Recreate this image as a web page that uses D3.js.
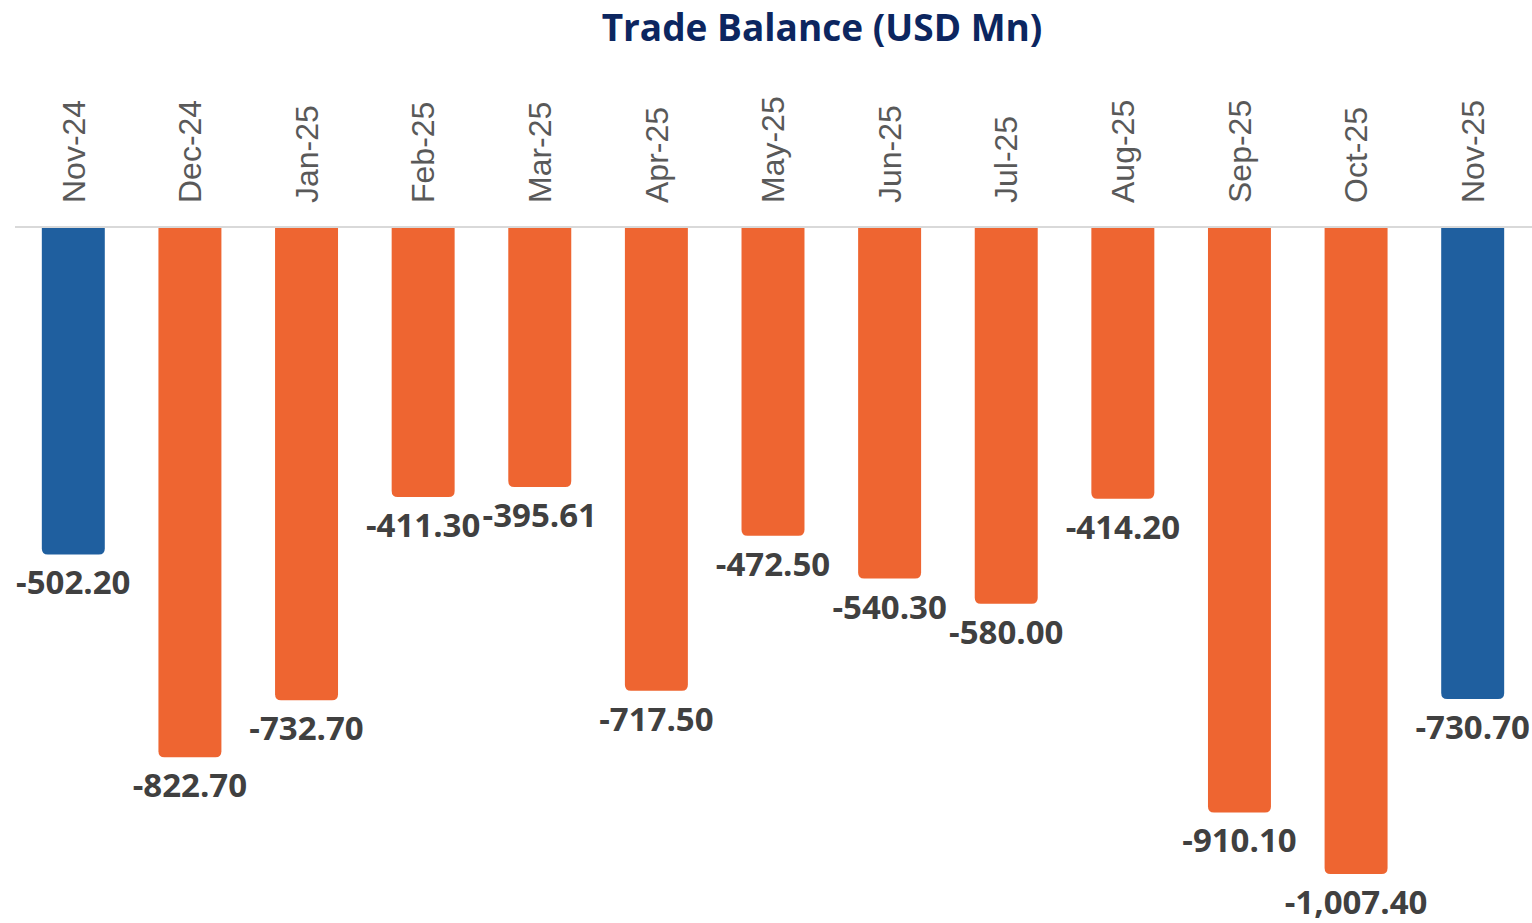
<!DOCTYPE html>
<html>
<head>
	<title>Trade Balance</title>
	<script src="https://cdn.jsdelivr.net/npm/d3@7/dist/d3.min.js"></script>
	<style>
		body { margin: 0; background: #fff; }
	</style>
</head>
<body>
<script>
	// data
	var months = ["Nov-24", "Dec-24", "Jan-25", "Feb-25", "Mar-25", "Apr-25", "May-25",
		"Jun-25", "Jul-25", "Aug-25", "Sep-25", "Oct-25", "Nov-25"];
	var balance = [-502.20, -822.70, -732.70, -411.30, -395.61, -717.50, -472.50,
		-540.30, -580.00, -414.20, -910.10, -1007.40, -730.70];
	var highlighted = ["Nov-24", "Nov-25"];

	var svgWidth = 1532, svgHeight = 923;
	var blue = "#1f5f9f", orange = "#ee6531";

	var svg = d3.select("body").append("svg")
		.attr("width", svgWidth)
		.attr("height", svgHeight);

	var data = months.map(function(m, i) { return {month: m, value: balance[i]}; });

	var x = d3.scaleBand().domain(months).range([15, 1531]).paddingInner(0.46).paddingOuter(0.23);
	// axis top sits slightly above zero, like the original chart
	var y = d3.scaleLinear().domain([14, -1007.4]).range([228, 874]);
	var top0 = y.range()[0];

	svg.append("text")
		.attr("x", 822)
		.attr("y", 41)
		.attr("text-anchor", "middle")
		.style("font-family", "'Open Sans', sans-serif")
		.style("font-weight", "bold")
		.style("font-size", "37px")
		.attr("fill", "#0c2660")
		.text("Trade Balance (USD Mn)");

	// bars with rounded bottom corners
	var r = 6;
	svg.selectAll(".bar")
		.data(data)
		.enter()
		.append("path")
		.attr("class", "bar")
		.attr("fill", function(d) { return highlighted.indexOf(d.month) >= 0 ? blue : orange; })
		.attr("d", function(d) {
			var x0 = x(d.month), w = x.bandwidth(), yb = y(d.value);
			return "M" + x0 + "," + top0 +
				"H" + (x0 + w) +
				"V" + (yb - r) +
				"Q" + (x0 + w) + "," + yb + " " + (x0 + w - r) + "," + yb +
				"H" + (x0 + r) +
				"Q" + x0 + "," + yb + " " + x0 + "," + (yb - r) +
				"Z";
		});

	// baseline
	svg.append("line")
		.attr("x1", 15).attr("x2", 1532)
		.attr("y1", top0 - 1).attr("y2", top0 - 1)
		.attr("stroke", "#d9d9d9")
		.attr("stroke-width", 2);

	// category labels, rotated
	var xAxis = d3.axisTop(x).tickSize(0).tickPadding(0);
	var gx = svg.append("g")
		.attr("transform", "translate(0," + (top0 - 25) + ")")
		.call(xAxis);
	gx.select(".domain").remove();
	gx.selectAll("text")
		.attr("transform", "rotate(-90)")
		.attr("x", 0)
		.attr("y", 0)
		.attr("dy", "0.35em")
		.attr("text-anchor", "start")
		.style("font-family", "'Liberation Sans', Arial, sans-serif")
		.style("font-size", "32px")
		.attr("fill", "#595959");

	// value labels
	var fmt = d3.format(",.2f");
	svg.selectAll(".val")
		.data(data)
		.enter()
		.append("text")
		.attr("class", "val")
		.attr("x", function(d) { return x(d.month) + x.bandwidth() / 2; })
		.attr("y", function(d) { return y(d.value) + 40; })
		.attr("text-anchor", "middle")
		.style("font-family", "'Open Sans', sans-serif")
		.style("font-weight", "bold")
		.style("font-size", "33px")
		.attr("fill", "#404040")
		.text(function(d) { return fmt(d.value).replace("−", "-"); });
</script>
</body>
</html>
